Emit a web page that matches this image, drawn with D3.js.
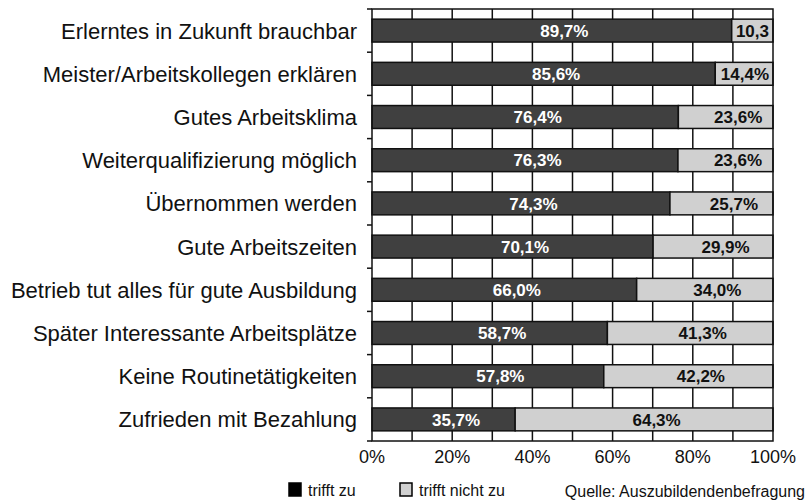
<!DOCTYPE html>
<html>
<head>
<meta charset="utf-8">
<script src="https://cdn.jsdelivr.net/npm/d3@7"></script>
<style>
  body { margin: 0; background: #fff; }
  text { font-family: "Liberation Sans", Arial, sans-serif; }
</style>
</head>
<body>
<svg id="chart" width="809" height="501"></svg>
<script>
const categories = [
  'Erlerntes in Zukunft brauchbar',
  'Meister/Arbeitskollegen erklären',
  'Gutes Arbeitsklima',
  'Weiterqualifizierung möglich',
  'Übernommen werden',
  'Gute Arbeitszeiten',
  'Betrieb tut alles für gute Ausbildung',
  'Später Interessante Arbeitsplätze',
  'Keine Routinetätigkeiten',
  'Zufrieden mit Bezahlung'
]
const triffZu = [89.7, 85.6, 76.4, 76.3, 74.3, 70.1, 66.0, 58.7, 57.8, 35.7]
const triffNicht = [10.3, 14.4, 23.6, 23.6, 25.7, 29.9, 34.0, 41.3, 42.2, 64.3]
const xTicks = [0, 20, 40, 60, 80, 100]
const legendLabels = ['trifft zu', 'trifft nicht zu']
const source = 'Quelle: Auszubildendenbefragung'

const DARK = '#404040'
const LIGHT = '#d0d0d0'

const fmt = (v) => v.toFixed(1).replace('.', ',') + '%'

const svg = d3.select('#chart')

const x = d3.scaleLinear().domain([0, 100]).range([372, 773])
const y = d3.scaleBand().domain(categories).range([9, 441]).paddingInner(0.47).paddingOuter(0.235)

const rows = categories.map((c, i) => ({ name: c, a: triffZu[i], b: triffNicht[i] }))

// vertical grid lines every 10%
svg.append('g')
  .selectAll('line')
  .data(d3.range(10, 100, 10))
  .join('line')
  .attr('x1', (d) => x(d)).attr('x2', (d) => x(d))
  .attr('y1', 9).attr('y2', 441)
  .attr('stroke', '#111').attr('stroke-width', 1.5)

const bars = svg.append('g')

bars.selectAll('rect.a')
  .data(rows)
  .join('rect')
  .attr('class', 'a')
  .attr('x', x(0))
  .attr('y', (d) => y(d.name))
  .attr('width', (d) => x(d.a) - x(0))
  .attr('height', y.bandwidth())
  .attr('fill', DARK)
  .attr('stroke', '#111').attr('stroke-width', 1.5)

bars.selectAll('rect.b')
  .data(rows)
  .join('rect')
  .attr('class', 'b')
  .attr('x', (d) => x(d.a))
  .attr('y', (d) => y(d.name))
  .attr('width', (d) => x(100) - x(d.a))
  .attr('height', y.bandwidth())
  .attr('fill', LIGHT)
  .attr('stroke', '#111').attr('stroke-width', 1.5)

// labels sit a bit right of the segment centre, pulled back inside short segments
const placeLabel = function (x0, x1) {
  return function () {
    const w = this.getComputedTextLength()
    let cx = (x0 + x1) / 2 + 12.5
    if (cx + w / 2 > x1 - 4) cx = x1 - 4 - w / 2
    d3.select(this).attr('x', cx)
  }
}

bars.selectAll('text.a')
  .data(rows)
  .join('text')
  .attr('class', 'a')
  .attr('y', (d) => y(d.name) + y.bandwidth() / 2)
  .attr('dy', '0.36em')
  .attr('text-anchor', 'middle')
  .attr('fill', '#fff')
  .attr('font-weight', 'bold')
  .attr('font-size', 17)
  .text((d) => fmt(d.a))
  .each(function (d) { placeLabel(x(0), x(d.a)).call(this) })

bars.selectAll('text.b')
  .data(rows)
  .join('text')
  .attr('class', 'b')
  .attr('y', (d) => y(d.name) + y.bandwidth() / 2)
  .attr('dy', '0.36em')
  .attr('text-anchor', 'middle')
  .attr('fill', '#111')
  .attr('font-weight', 'bold')
  .attr('font-size', 17)
  .text((d, i) => (i === 0 ? fmt(d.b).replace('%', '') : fmt(d.b)))
  .each(function (d) { placeLabel(x(d.a), x(100)).call(this) })

// frame
svg.append('rect')
  .attr('x', x(0)).attr('y', 9)
  .attr('width', x(100) - x(0)).attr('height', 432)
  .attr('fill', 'none').attr('stroke', '#111').attr('stroke-width', 1.5)

// left axis with ticks between bands
const yAxis = svg.append('g')
yAxis.selectAll('line')
  .data(d3.range(0, categories.length + 1))
  .join('line')
  .attr('x1', x(0) - 5).attr('x2', x(0))
  .attr('y1', (i) => 9 + i * y.step()).attr('y2', (i) => 9 + i * y.step())
  .attr('stroke', '#111').attr('stroke-width', 1.5)

yAxis.selectAll('text')
  .data(categories)
  .join('text')
  .attr('x', 357)
  .attr('y', (d) => y(d) + y.bandwidth() / 2)
  .attr('dy', '0.36em')
  .attr('text-anchor', 'end')
  .attr('font-size', 22)
  .attr('fill', '#111')
  .text((d) => d)

// bottom axis labels
svg.append('g')
  .selectAll('text')
  .data(xTicks)
  .join('text')
  .attr('x', (d) => x(d))
  .attr('y', 457)
  .attr('dy', '0.36em')
  .attr('text-anchor', 'middle')
  .attr('font-size', 18)
  .attr('fill', '#111')
  .text((d) => d + '%')

// legend
const legend = svg.append('g')
const legendX = [289, 400]
legend.selectAll('rect')
  .data(legendLabels)
  .join('rect')
  .attr('x', (d, i) => legendX[i])
  .attr('y', 483)
  .attr('width', 12).attr('height', 13)
  .attr('fill', (d, i) => (i === 0 ? '#000' : LIGHT))
  .attr('stroke', '#000').attr('stroke-width', 1.5)

legend.selectAll('text')
  .data(legendLabels)
  .join('text')
  .attr('x', (d, i) => legendX[i] + 19)
  .attr('y', 490)
  .attr('dy', '0.36em')
  .attr('font-size', 16)
  .attr('fill', '#111')
  .text((d) => d)

svg.append('text')
  .attr('x', 805)
  .attr('y', 491)
  .attr('dy', '0.36em')
  .attr('text-anchor', 'end')
  .attr('font-size', 16)
  .attr('fill', '#111')
  .text(source)
</script>
</body>
</html>
